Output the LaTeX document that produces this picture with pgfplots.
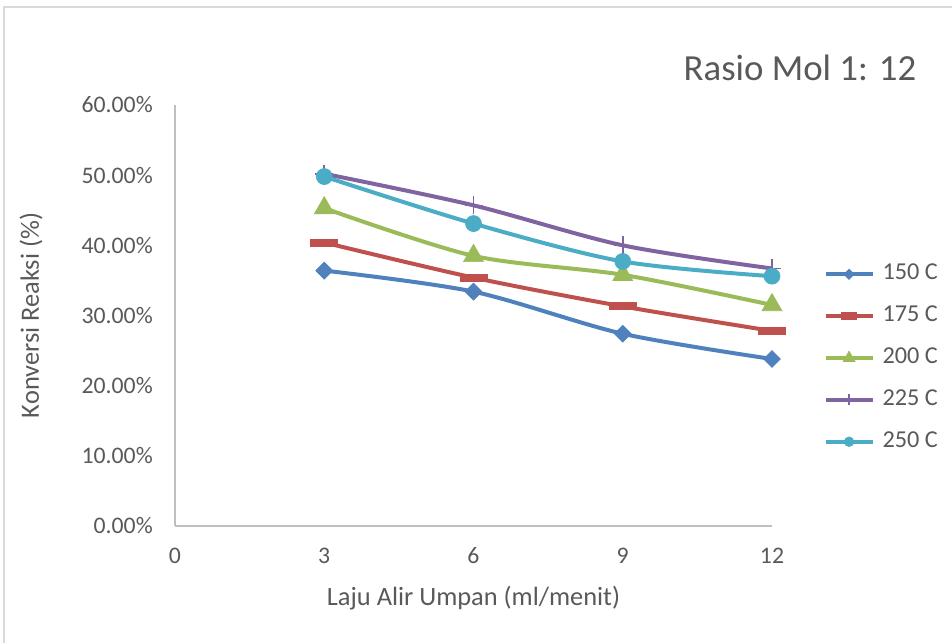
\documentclass[border=0pt]{standalone}
\usepackage{fontspec}
\setmainfont{Carlito}
\usepackage{pgfplots}
\pgfplotsset{compat=1.18}
\definecolor{cA}{HTML}{4F81BD}
\definecolor{cB}{HTML}{C0504D}
\definecolor{cC}{HTML}{9BBB59}
\definecolor{cD}{HTML}{8064A2}
\definecolor{cE}{HTML}{4BACC6}
\definecolor{txtgray}{HTML}{595959}
\definecolor{axgray}{HTML}{BFBFBF}
\definecolor{framegray}{HTML}{D9D9D9}
\begin{document}
\begin{tikzpicture}[x=0.75pt,y=0.75pt]
\path[use as bounding box] (0,0) rectangle (952,642);
\draw[framegray, line width=1pt] (4,-5) -- (4,635) -- (960,635);
\begin{axis}[
  at={(131.25pt,87pt)}, anchor=south west,
  scale only axis, width=447.75pt, height=315.75pt,
  xmin=0, xmax=12, ymin=0, ymax=60,
  xtick={0,3,6,9,12}, xticklabels={0,3,6,9,12},
  ytick={0,10,20,30,40,50,60},
  yticklabels={0.00\%,10.00\%,20.00\%,30.00\%,40.00\%,50.00\%,60.00\%},
  major tick length=0pt,
  axis x line*=bottom, axis y line*=left,
  axis line style={draw=axgray, line width=1pt, -},
  tick label style={font=\fontsize{17.8}{20}\selectfont, text=txtgray},
  yticklabel style={inner xsep=0pt, anchor=east, xshift=-16.5pt},
  xticklabel style={inner ysep=0pt, anchor=north, yshift=-16pt},
  xlabel={Laju Alir Umpan (ml/menit)},
  ylabel={Konversi Reaksi (\%)},
  label style={font=\fontsize{19.8}{22}\selectfont, text=txtgray},
  xlabel style={at={(axis description cs:0.5,-0.171)}, anchor=center},
  ylabel style={at={(axis description cs:-0.241,0.5)}, anchor=center, rotate=0},
  every axis plot/.append style={line width=3pt, smooth, tension=0.5},
  legend style={draw=none, fill=none, inner sep=0pt, anchor=west,
    at={(axis description cs:1.086,0.399)},
    font=\fontsize{18.2}{20}\selectfont, text=txtgray,
    row sep=15.4pt, column sep=6pt,
    nodes={inner sep=0pt, text height=12pt, text depth=4pt}},
  legend cell align=left,
  legend image code/.code={\draw[#1, line width=3pt, every mark/.append style={scale=0.6}, mark repeat=2, mark phase=2] plot coordinates {(0pt,0pt) (17.6pt,0pt) (35.2pt,0pt)};},
]
\addplot[cA, mark=square*, mark size=4.5pt, mark options={rotate=45, solid, line width=0.5pt}] coordinates {(3,36.4) (6,33.4) (9,27.4) (12,23.8)};
\addlegendentry{150 C}
\addplot[cB, mark=-, mark size=10.5pt, mark options={line width=6pt, line cap=butt}] coordinates {(3,40.4) (6,35.4) (9,31.3) (12,27.8)};
\addlegendentry{175 C}
\addplot[cC, mark=triangle*, mark size=8.6pt, mark options={line width=0.5pt}] coordinates {(3,45.3) (6,38.5) (9,35.8) (12,31.5)};
\addlegendentry{200 C}
\addplot[cD, mark=+, mark size=6.75pt, mark options={line width=1.2pt}] coordinates {(3,50.2) (6,45.7) (9,40.0) (12,36.7)};
\addlegendentry{225 C}
\addplot[cE, mark=*, mark size=6pt, mark options={line width=0.5pt}] coordinates {(3,49.8) (6,43.1) (9,37.7) (12,35.6)};
\addlegendentry{250 C}
\end{axis}
\node[text=txtgray, font=\fontsize{27.6}{30}\selectfont, inner sep=0pt] at (800,574) {Rasio Mol 1: 12};
\end{tikzpicture}
\end{document}
